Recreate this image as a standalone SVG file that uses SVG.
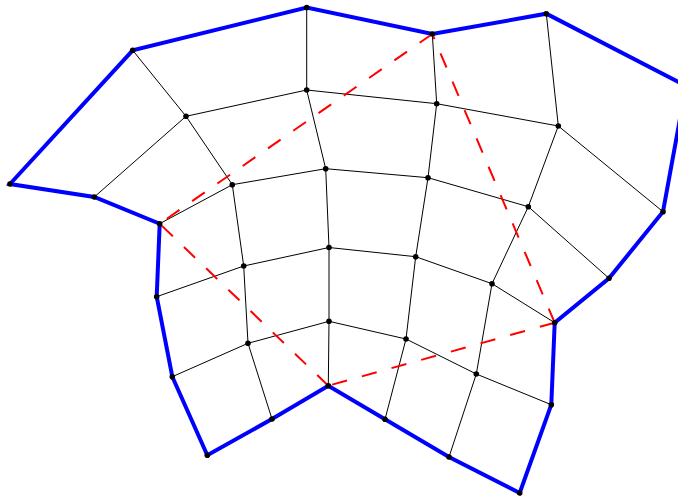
<svg xmlns="http://www.w3.org/2000/svg" width="678" height="498" viewBox="0 0 678 498">
<style>
.mesh{fill:none;stroke:#000;stroke-width:1}
.bnd{fill:none;stroke:#0000ff;stroke-width:4;stroke-linejoin:miter}
.red{fill:none;stroke:#ff0000;stroke-width:2;stroke-dasharray:15.4 15.4}
.v circle{fill:#000}
</style>
<rect width="678" height="498" fill="#fff"/>
<g id="connectors">
<g id="mesh-rows" class="mesh">
<polyline points="94.3,197 186,116.3 306.7,90 436.7,103.7 558.3,126 663,211.7"/>
<polyline points="159.7,223.7 232.3,184.7 325.7,168.7 428,177.7 528.3,206.7 609,278.3"/>
<polyline points="156.7,296.7 243.7,266 329,247.5 415.7,256.7 492,283.7 554.7,322.7"/>
<polyline points="172.3,376.7 248,343.3 329,321.3 406,339 476.3,374 551.3,404.7"/>
</g>
<g id="mesh-cols" class="mesh">
<polyline points="132.7,50.3 186,116.3 232.3,184.7 243.7,266 248,343.3 272,419"/>
<polyline points="306.7,7.5 306.7,90 325.7,168.7 329,247.5 329,321.3 328.3,385.7"/>
<polyline points="432.3,34 436.7,103.7 428,177.7 415.7,256.7 406,339 385,419.3"/>
<polyline points="546.3,13.7 558.3,126 528.3,206.7 492,283.7 476.3,374 449,457"/>
</g>
<polygon id="boundary" class="bnd" points="10,184 132.7,50.3 306.7,7.5 432.3,34 546.3,13.7 686,86 663,211.7 609,278.3 554.7,322.7 551.3,404.7 519.7,493 449,457 385,419.3 328.3,385.7 272,419 207.3,455.3 172.3,376.7 156.7,296.7 159.7,223.7 94.3,197"/>
<g id="dashed" class="red">
<line x1="328.3" y1="385.7" x2="159.7" y2="223.7"/>
<line x1="432.3" y1="34" x2="159.7" y2="223.7"/>
<line x1="554.7" y1="322.7" x2="432.3" y2="34"/>
<line x1="554.7" y1="322.7" x2="328.3" y2="385.7"/>
</g>
</g>
<g id="nodes" class="v">
<g id="n00"><circle cx="10" cy="184" r="2.8"/></g>
<g id="n01"><circle cx="132.7" cy="50.3" r="2.8"/></g>
<g id="n02"><circle cx="306.7" cy="7.5" r="2.8"/></g>
<g id="n03"><circle cx="432.3" cy="34" r="2.8"/></g>
<g id="n04"><circle cx="546.3" cy="13.7" r="2.8"/></g>
<g id="n10"><circle cx="94.3" cy="197" r="2.8"/></g>
<g id="n11"><circle cx="186" cy="116.3" r="2.8"/></g>
<g id="n12"><circle cx="306.7" cy="90" r="2.8"/></g>
<g id="n13"><circle cx="436.7" cy="103.7" r="2.8"/></g>
<g id="n14"><circle cx="558.3" cy="126" r="2.8"/></g>
<g id="n15"><circle cx="663" cy="211.7" r="2.8"/></g>
<g id="n20"><circle cx="159.7" cy="223.7" r="2.8"/></g>
<g id="n21"><circle cx="232.3" cy="184.7" r="2.8"/></g>
<g id="n22"><circle cx="325.7" cy="168.7" r="2.8"/></g>
<g id="n23"><circle cx="428" cy="177.7" r="2.8"/></g>
<g id="n24"><circle cx="528.3" cy="206.7" r="2.8"/></g>
<g id="n25"><circle cx="609" cy="278.3" r="2.8"/></g>
<g id="n30"><circle cx="156.7" cy="296.7" r="2.8"/></g>
<g id="n31"><circle cx="243.7" cy="266" r="2.8"/></g>
<g id="n32"><circle cx="329" cy="247.5" r="2.8"/></g>
<g id="n33"><circle cx="415.7" cy="256.7" r="2.8"/></g>
<g id="n34"><circle cx="492" cy="283.7" r="2.8"/></g>
<g id="n35"><circle cx="554.7" cy="322.7" r="2.8"/></g>
<g id="n40"><circle cx="172.3" cy="376.7" r="2.8"/></g>
<g id="n41"><circle cx="248" cy="343.3" r="2.8"/></g>
<g id="n42"><circle cx="329" cy="321.3" r="2.8"/></g>
<g id="n43"><circle cx="406" cy="339" r="2.8"/></g>
<g id="n44"><circle cx="476.3" cy="374" r="2.8"/></g>
<g id="n45"><circle cx="551.3" cy="404.7" r="2.8"/></g>
<g id="n50"><circle cx="207.3" cy="455.3" r="2.8"/></g>
<g id="n51"><circle cx="272" cy="419" r="2.8"/></g>
<g id="n52"><circle cx="328.3" cy="385.7" r="2.8"/></g>
<g id="n53"><circle cx="385" cy="419.3" r="2.8"/></g>
<g id="n54"><circle cx="449" cy="457" r="2.8"/></g>
<g id="n55"><circle cx="519.7" cy="493" r="2.8"/></g>
</g>
</svg>
